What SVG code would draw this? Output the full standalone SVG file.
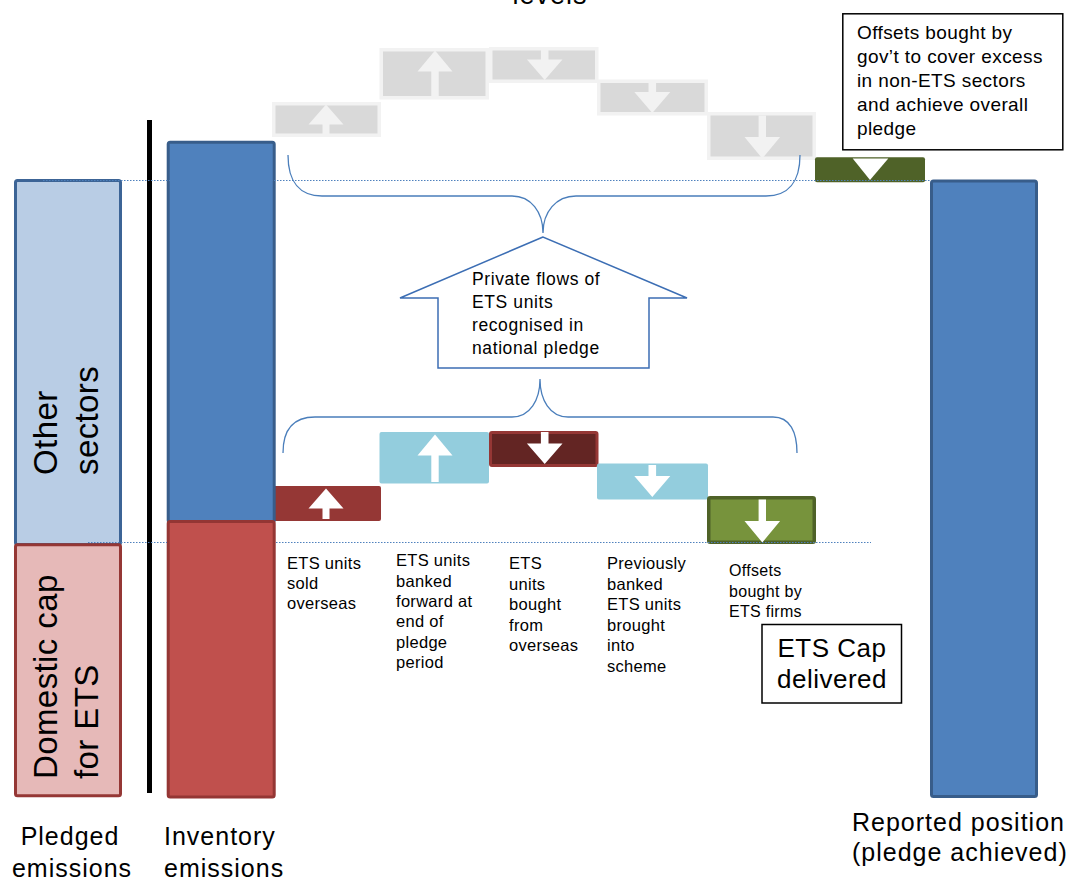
<svg xmlns="http://www.w3.org/2000/svg" width="1070" height="882" viewBox="0 0 1070 882">
<style>
text{font-family:"Liberation Sans",Arial,sans-serif;fill:#000}
.lbl{font-size:16.5px;letter-spacing:0.3px}
.big{font-size:25px;letter-spacing:1px}
.rot{font-size:33px;letter-spacing:0.4px}
.note{font-size:19px;letter-spacing:0.4px}
.house{font-size:17.5px;letter-spacing:0.6px}
.brace{fill:none;stroke:#4A7EBB;stroke-width:1.3}
.dot{stroke:#4F81BD;stroke-width:1.2;stroke-dasharray:1.5 1.5;fill:none}
.wa{fill:#fff}
.ga{fill:#F2F2F2}
.grey{fill:#D9D9D9;stroke:#F2F2F2;stroke-width:3.5}
.lblue{fill:#93CDDD}
</style>
<rect width="1070" height="882" fill="#fff"/>
<text x="550" y="4" text-anchor="middle" style="font-size:27px;letter-spacing:1px">levels</text>

<g id="pledged-emissions">
  <rect x="15.5" y="180.5" width="105" height="364" rx="2" fill="#B9CDE5" stroke="#3C6496" stroke-width="3"/>
  <rect x="15.5" y="544.8" width="105" height="251" rx="2" fill="#E6B9B8" stroke="#953735" stroke-width="3"/>
  <text class="rot" transform="translate(57,475) rotate(-90)">Other</text>
  <text class="rot" transform="translate(98,475) rotate(-90)">sectors</text>
  <text class="rot" transform="translate(57,779) rotate(-90)">Domestic cap</text>
  <text class="rot" transform="translate(98,779) rotate(-90)">for ETS</text>
  <text class="big" x="70" y="845" text-anchor="middle">Pledged</text>
  <text class="big" x="72" y="877" text-anchor="middle">emissions</text>
</g>

<g id="separator">
  <rect x="147" y="120" width="5" height="673" fill="#000"/>
</g>

<g id="grey-flows">
  <rect class="grey" x="273.75" y="103.75" width="105.5" height="31.5"/>
  <rect class="grey" x="381.25" y="49.75" width="106" height="48"/>
  <rect class="grey" x="490.75" y="48.75" width="106" height="32.5"/>
  <rect class="grey" x="598.75" y="81.25" width="107.5" height="32.5"/>
  <rect class="grey" x="708.75" y="113.75" width="105.5" height="44.5"/>
  <g transform="translate(0,-384)">
    <polygon class="ga" points="326,488.5 343.5,508.5 329.5,508.5 329.5,519 322.5,519 322.5,508.5 308.5,508.5"/>
    <polygon class="ga" points="435,434.5 452.5,455.5 438.7,455.5 438.7,482 431.3,482 431.3,455.5 417.5,455.5"/>
    <polygon class="ga" points="540.9,432 548.5,432 548.5,443.5 562.5,443.5 544.7,464 526.9,443.5 540.9,443.5"/>
    <polygon class="ga" points="648.5,465 656.1,465 656.1,476 670.3,476 652.3,497 634.3,476 648.5,476"/>
    <polygon class="ga" points="758.6,499.5 766,499.5 766,521 780.1,521 762.3,542.5 744.5,521 758.6,521"/>
  </g>
</g>

<g id="ets-sold-overseas">
  <rect x="272" y="486" width="109" height="35" rx="2" fill="#953735"/>
  <polygon class="wa" points="326,488.5 343.5,508.5 329.5,508.5 329.5,519 322.5,519 322.5,508.5 308.5,508.5"/>
  <text class="lbl" x="287" y="569">ETS units</text>
  <text class="lbl" x="287" y="589">sold</text>
  <text class="lbl" x="287" y="609">overseas</text>
</g>
<g id="ets-banked-forward">
  <rect class="lblue" x="379.5" y="432" width="109.5" height="51.5" rx="2"/>
  <polygon class="wa" points="435,434.5 452.5,455.5 438.7,455.5 438.7,482 431.3,482 431.3,455.5 417.5,455.5"/>
  <text class="lbl" x="396" y="566">ETS units</text>
  <text class="lbl" x="396" y="586.5">banked</text>
  <text class="lbl" x="396" y="607">forward at</text>
  <text class="lbl" x="396" y="627">end of</text>
  <text class="lbl" x="396" y="647.5">pledge</text>
  <text class="lbl" x="396" y="668">period</text>
</g>
<g id="ets-bought-overseas">
  <rect x="490.5" y="432.5" width="106.5" height="33" rx="1.5" fill="#632523" stroke="#953735" stroke-width="3"/>
  <polygon class="wa" points="540.9,432 548.5,432 548.5,443.5 562.5,443.5 544.7,464 526.9,443.5 540.9,443.5"/>
  <text class="lbl" x="509" y="569">ETS</text>
  <text class="lbl" x="509" y="589.5">units</text>
  <text class="lbl" x="509" y="610">bought</text>
  <text class="lbl" x="509" y="630.5">from</text>
  <text class="lbl" x="509" y="651">overseas</text>
</g>
<g id="previously-banked">
  <rect class="lblue" x="597" y="463.5" width="111" height="36" rx="2"/>
  <polygon class="wa" points="648.5,465 656.1,465 656.1,476 670.3,476 652.3,497 634.3,476 648.5,476"/>
  <text class="lbl" x="607" y="569">Previously</text>
  <text class="lbl" x="607" y="589.5">banked</text>
  <text class="lbl" x="607" y="610">ETS units</text>
  <text class="lbl" x="607" y="630.5">brought</text>
  <text class="lbl" x="607" y="651">into</text>
  <text class="lbl" x="607" y="671.5">scheme</text>
</g>
<g id="offsets-ets-firms">
  <rect x="708.75" y="497.75" width="105.5" height="44.5" rx="1.5" fill="#77933C" stroke="#4F6228" stroke-width="3.5"/>
  <polygon class="wa" points="758.6,499.5 766,499.5 766,521 780.1,521 762.3,542.5 744.5,521 758.6,521"/>
  <text class="lbl" x="729" y="576" style="font-size:16px">Offsets</text>
  <text class="lbl" x="729" y="596.5" style="font-size:16px">bought by</text>
  <text class="lbl" x="729" y="617" style="font-size:16px">ETS firms</text>
</g>

<g id="inventory-emissions">
  <rect x="168.2" y="142.2" width="106" height="380" rx="2" fill="#4F81BD" stroke="#385D8A" stroke-width="3"/>
  <rect x="168.2" y="521.5" width="106" height="275.5" rx="2" fill="#C0504D" stroke="#943634" stroke-width="3"/>
  <text class="big" x="164" y="845">Inventory</text>
  <text class="big" x="164" y="877">emissions</text>
</g>

<g id="gov-offsets">
  <rect x="815" y="157.3" width="110" height="25" rx="2" fill="#4F6228"/>
  <polygon class="wa" points="852.7,158.5 888.3,158.5 870,180"/>
  <rect x="842.8" y="13.8" width="220" height="136" fill="#fff" stroke="#000" stroke-width="1.5"/>
  <text class="note" x="857" y="39">Offsets bought by</text>
  <text class="note" x="857" y="63">gov’t to cover excess</text>
  <text class="note" x="857" y="87">in non-ETS sectors</text>
  <text class="note" x="857" y="111">and achieve  overall</text>
  <text class="note" x="857" y="135">pledge</text>
</g>

<g id="reported-position">
  <rect x="931.5" y="181" width="105" height="615.5" rx="2" fill="#4F81BD" stroke="#385D8A" stroke-width="3"/>
  <text class="big" x="852" y="831">Reported position</text>
  <text class="big" x="852" y="861">(pledge achieved)</text>
</g>

<g id="connectors">
  <line class="dot" x1="43" y1="180.5" x2="930" y2="180.5"/>
  <line class="dot" x1="88" y1="542.5" x2="167" y2="542.5"/>
  <line class="dot" x1="276" y1="542.5" x2="871" y2="542.5"/>
  <path class="brace" d="M288,155 C288,182 300,196 322,196 L512,196 C531,196 543,212 543,233 C543,212 556,196 576,196 L766,196 C788,196 800,182 800,155"/>
  <path class="brace" d="M283,453 C283,430 293,417 315,417 L512,417 C530,417 540,400 540,379 C540,400 550,417 568,417 L773,417 C790,417 797,432 797,453"/>
</g>

<g id="private-flows">
  <polygon points="543,237 400,298 438,298 438,368 649,368 649,298 687,298" fill="#fff" stroke="#3C6EB4" stroke-width="1.5"/>
  <text class="house" x="472" y="285">Private flows of</text>
  <text class="house" x="472" y="308">ETS units</text>
  <text class="house" x="472" y="331">recognised in</text>
  <text class="house" x="472" y="354">national pledge</text>
</g>

<g id="ets-cap-delivered">
  <rect x="762" y="624.5" width="139.5" height="78.5" fill="#fff" stroke="#000" stroke-width="1.5"/>
  <text x="832" y="656.5" text-anchor="middle" style="font-size:26px;letter-spacing:0.5px">ETS Cap</text>
  <text x="832" y="688" text-anchor="middle" style="font-size:26px;letter-spacing:0.5px">delivered</text>
</g>
</svg>
